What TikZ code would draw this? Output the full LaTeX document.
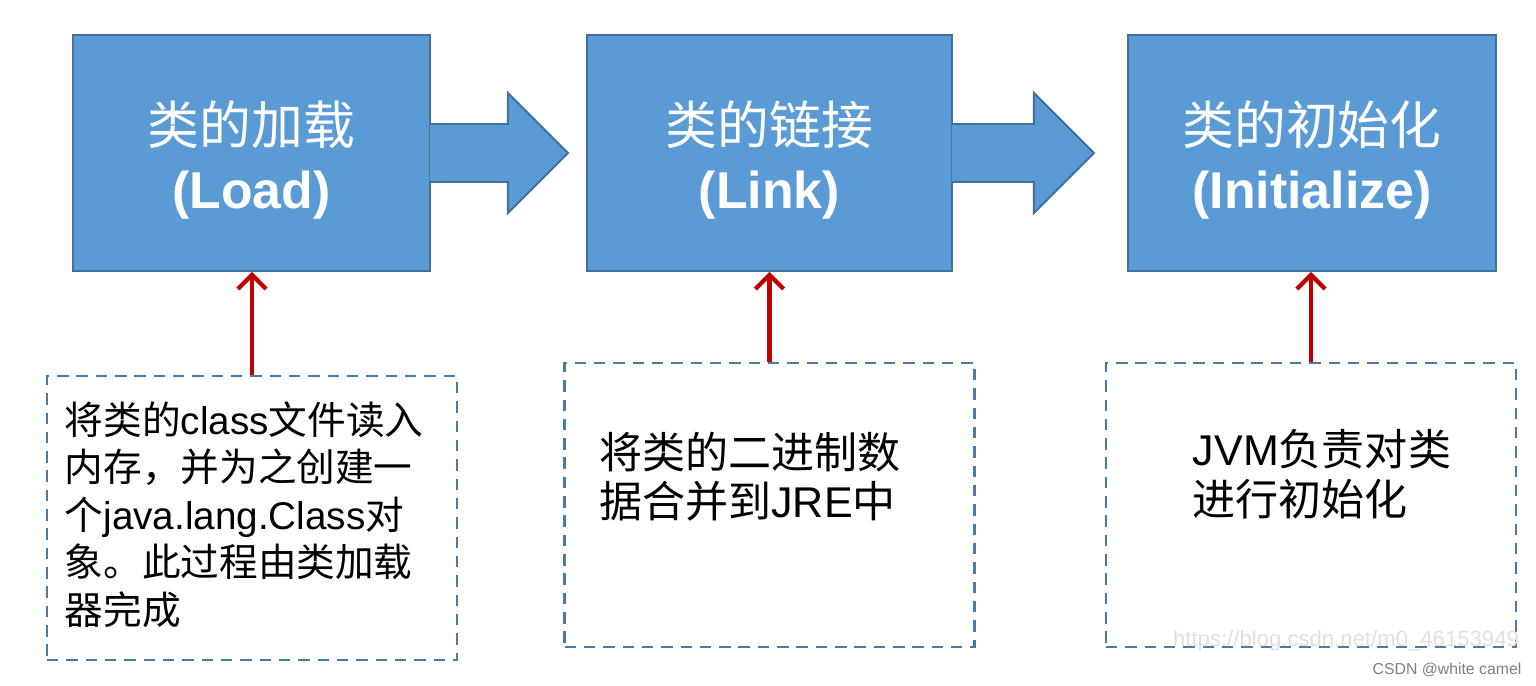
\documentclass[tikz,border=0pt]{standalone}
\usepackage{fontspec}
\setmainfont{Noto Sans CJK SC}
\newfontfamily\arial{Liberation Sans}
\usetikzlibrary{arrows.meta, calc}
\definecolor{cblue}{HTML}{5B9BD5}
\definecolor{cedge}{HTML}{41719C}
\definecolor{cdash}{HTML}{4A7AA6}
\definecolor{cred}{HTML}{C00000}
\newcommand{\en}[1]{{\arial #1}}
\tikzset{
  every picture/.style={line width=1.1pt},
  stage/.style={draw=cedge, fill=cblue, text=white, align=center, minimum height=4.72cm, font=\fontsize{29.5}{36}\selectfont},
  flow/.style={draw=cedge, fill=cblue, line join=miter},
  note/.style={draw=cdash, line width=1.4pt, dash pattern=on 6.5pt off 4.5pt, minimum width=8.2cm, minimum height=5.68cm},
  notetext/.style={anchor=north west, inner sep=0pt, align=left},
  uparrow/.style={-{Straight Barb[length=8pt, width=16pt]}, draw=cred, line width=2.4pt},
}

\begin{document}
\begin{tikzpicture}[x=0.02cm, y=0.02cm]
  \useasboundingbox (0,0) rectangle (1536,686);
  % the three stages
  \node[stage, minimum width=7.14cm] (load) at (251.5,533) {\rule{0pt}{33pt}类的加载\\ \en{\bfseries (Load)}};
  \node[stage, minimum width=7.30cm] (link) at (769.5,533) {\rule{0pt}{33pt}类的链接\\ \en{\bfseries (Link)}};
  \node[stage, minimum width=7.36cm] (init) at (1312,533) {\rule{0pt}{33pt}类的初始化\\ \en{\bfseries (Initialize)}};
  % block arrows between stages
  \filldraw[flow] ([shift={(-1,29)}]load.east) -- ++(78,0) -- ++(0,31) -- ++(60,-60) -- ++(-60,-60) -- ++(0,31) -- ++(-78,0);
  \filldraw[flow] ([shift={(-1,29)}]link.east) -- ++(82,0) -- ++(0,31) -- ++(60,-60) -- ++(-60,-60) -- ++(0,31) -- ++(-82,0);
  % notes under the stages
  \node[note] (loadnote) at (252,168) {};
  \node[note] (linknote) at (769.5,181) {};
  \node[note] (initnote) at (1311,181) {};
  \node[notetext, font=\fontsize{22}{27}\selectfont] (loadtext) at ([shift={(18,-26)}]loadnote.north west)
    {将类的\en{class}文件读入\\ 内存，并为之创建一\\ 个\en{java.lang.Class}对\\ 象。此过程由类加载\\ 器完成};
  \node[notetext, font=\fontsize{24.5}{28}\selectfont] (linktext) at ([shift={(35,-69)}]linknote.north west)
    {将类的二进制数\\ 据合并到\en{JRE}中};
  \node[notetext, font=\fontsize{24.5}{28.5}\selectfont] (inittext) at ([shift={(87,-67)}]initnote.north west)
    {\en{JVM}负责对类\\ 进行初始化};
  % red arrows up
  \draw[uparrow] (loadnote.north) -- (loadnote.north |- load.south);
  \draw[uparrow] (linknote.north) -- (linknote.north |- link.south);
  \draw[uparrow] (initnote.north) -- (initnote.north |- init.south);
  % watermark
  \node[font=\arial\fontsize{12.6}{14}\selectfont, text=black!12] (wmurl) at (1346,45) {https://blog.csdn.net/m0\_46153949};
  \node[font=\arial\fontsize{9}{10}\selectfont, text=black!50] (wmname) at (1447,16) {CSDN @white camel};
\end{tikzpicture}
\end{document}
